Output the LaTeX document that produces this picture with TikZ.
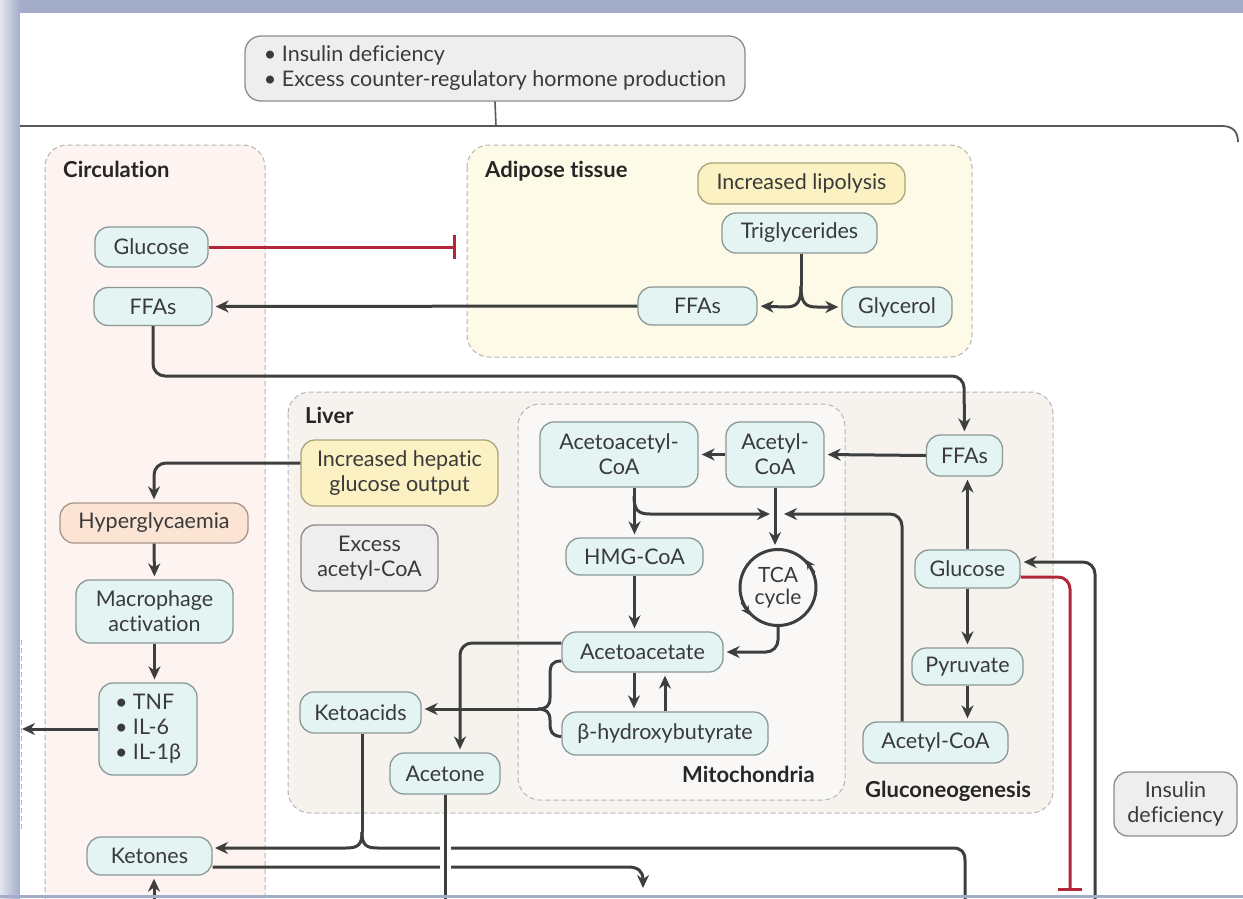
\documentclass[tikz,border=0pt]{standalone}
\usepackage{fontspec}
\setmainfont{Lato}[Ligatures=NoCommon]
\usetikzlibrary{arrows.meta}
\definecolor{nfill}{HTML}{E3F4F3}
\definecolor{nborder}{HTML}{8A9896}
\definecolor{yfill}{HTML}{FBF1C3}
\definecolor{yborder}{HTML}{A9A47A}
\definecolor{gfill}{HTML}{EEEEEE}
\definecolor{gborder}{HTML}{8C8C8C}
\definecolor{pfill}{HTML}{FBE4D4}
\definecolor{pborder}{HTML}{A8968A}
\definecolor{linec}{HTML}{3D3F3F}
\definecolor{txtc}{HTML}{3A3A3A}
\definecolor{redc}{HTML}{B3263A}
\definecolor{circfill}{HTML}{FDF3F0}
\definecolor{adifill}{HTML}{FDFBE7}
\definecolor{livfill}{HTML}{F6F3EE}
\definecolor{mitfill}{HTML}{FAF8F6}
\definecolor{dashc}{HTML}{B4B4B4}
\definecolor{framec}{HTML}{A3ADC9}
\begin{document}
\begin{tikzpicture}[x=1pt,y=-1pt,font=\fontsize{21.5}{25}\selectfont,
 box/.style={draw=nborder, fill=nfill, line width=1.3pt, rounded corners=14pt, align=center, inner sep=0pt, text=txtc},
 ybox/.style={box, draw=yborder, fill=yfill},
 gbox/.style={box, draw=gborder, fill=gfill},
 pbox/.style={box, draw=pborder, fill=pfill},
 panel/.style={draw=dashc, dash pattern=on 5pt off 3pt, line width=1pt, rounded corners=22pt},
 plabel/.style={font=\fontsize{22}{26}\selectfont\bfseries, anchor=base west, inner sep=0pt, text=black!85},
 arr/.style={draw=linec, line width=3pt, -{Stealth[length=13pt,width=12pt]}, rounded corners=12pt, shorten >=3pt},
 ln/.style={draw=linec, line width=3pt, rounded corners=12pt},
 inh/.style={draw=redc, line width=3pt, -{Bar[width=24pt,line width=3pt]}, rounded corners=12pt},
]
\useasboundingbox (0,0) rectangle (1243,898);
% frame
\fill[framec] (0,0) rectangle (1243,898);
\shade[left color=framec!30, right color=framec] (0,0) rectangle (20,898);
\fill[white] (20,13) rectangle (1243,898);

% top box and frame line
\node[gbox, minimum width=500, minimum height=65, align=left, rounded corners=16pt] (top) at (495,68.5)
  {\textbullet\ Insulin deficiency\\ \textbullet\ Excess counter-regulatory hormone production};
\coordinate (framejoin) at (496,126);
\draw[gray!70!black, line width=1.6pt] (top.south) -- (framejoin);
\draw[gray!70!black, line width=1.8pt] (20,126) -- (1222,126) .. controls (1233,126) and (1238,132) .. (1238,142);

% panels
\draw[panel, fill=circfill] (45,145) rectangle (265,940);
\draw[panel, fill=adifill] (467,145) rectangle (972,357);
\draw[panel, fill=livfill] (288,392) rectangle (1053,813);
\draw[panel, fill=mitfill] (518,404) rectangle (845,800);
\draw[dashc, dash pattern=on 5pt off 3pt, line width=1pt] (21,640) -- (21,830);

\node[plabel] (lcirc) at (63,177) {Circulation};
\node[plabel] (ladi) at (485,177) {Adipose tissue};
\node[plabel] (lliv) at (305,423) {Liver};
\node[plabel] (lmit) at (682,782) {Mitochondria};
\node[plabel] (lglu) at (865,797) {Gluconeogenesis};

% circulation nodes
\node[box, minimum width=113, minimum height=40] (cGlu) at (151.5,247) {Glucose};
\node[box, minimum width=118, minimum height=38] (cFFA) at (153,306.5) {FFAs};
\node[pbox, minimum width=188, minimum height=40] (hyper) at (154,523) {Hyperglycaemia};
\node[box, minimum width=157, minimum height=63] (macro) at (154.5,611.5) {Macrophage\\activation};
\node[box, minimum width=98, minimum height=92, align=left] (tnf) at (148,729) {\textbullet\ TNF\\\textbullet\ IL-6\\\textbullet\ IL-1β};
\node[box, minimum width=125, minimum height=38] (ket) at (149.5,856) {Ketones};

% adipose nodes
\node[ybox, minimum width=207, minimum height=41] (lipo) at (801.5,183.5) {Increased lipolysis};
\node[box, minimum width=155, minimum height=40] (trig) at (799.5,233) {Triglycerides};
\node[box, minimum width=119, minimum height=38] (aFFA) at (697.5,306) {FFAs};
\node[box, minimum width=110, minimum height=40] (glyc) at (897,307) {Glycerol};

% liver nodes
\node[ybox, minimum width=197, minimum height=66] (ihgo) at (399.5,473) {Increased hepatic\\glucose output};
\node[gbox, minimum width=137, minimum height=66] (exac) at (369.5,558) {Excess\\acetyl-CoA};
\node[box, minimum width=121, minimum height=41] (keto) at (360.5,712.5) {Ketoacids};
\node[box, minimum width=110, minimum height=41] (acet) at (445,773.5) {Acetone};
\node[box, minimum width=76, minimum height=41] (lFFA) at (964.5,455.5) {FFAs};
\node[box, minimum width=105, minimum height=38] (lGlu) at (967.5,569) {Glucose};
\node[box, minimum width=111, minimum height=37] (pyr) at (967.5,666.5) {Pyruvate};
\node[box, minimum width=145, minimum height=41] (gACoA) at (935.5,742.5) {Acetyl-CoA};

% mitochondria nodes
\node[box, minimum width=158, minimum height=65] (acacCoA) at (619,454.5) {Acetoacetyl-\\CoA};
\node[box, minimum width=98, minimum height=65] (mACoA) at (775,454.5) {Acetyl-\\CoA};
\node[box, minimum width=137, minimum height=37] (hmg) at (634.5,556.5) {HMG-CoA};
\node[circle, draw=linec, line width=3pt, minimum size=76, inner sep=0pt, align=center, text=txtc,
  font=\fontsize{21}{22}\selectfont] (tca) at (778,587.5) {TCA\\cycle};
\node[box, minimum width=161, minimum height=40] (acac) at (642.5,652) {Acetoacetate};
\node[box, minimum width=206, minimum height=43] (bohb) at (665,733.5) {β-hydroxybutyrate};

\node[gbox, minimum width=123, minimum height=64] (insd) at (1175.5,804) {Insulin\\deficiency};

% TCA arrowheads
\draw[linec, line width=2pt, -{Stealth[length=9pt,width=9pt]}] (tca.22) -- (tca.44);
\draw[linec, line width=2pt, -{Stealth[length=9pt,width=9pt]}] (tca.202) -- (tca.224);

% edges: circulation / adipose
\coordinate (inhEnd) at (456,247);
\draw[inh] (cGlu.east) -- (inhEnd);
\draw[arr] (aFFA.west) -- (cFFA.east);
\coordinate (fork) at (801,286);
\draw[ln] (trig.south -| fork) -- (fork);
\draw[arr, sharp corners] (fork) .. controls (801,303) and (797,307) .. (785,307) -- (aFFA.east);
\draw[arr, sharp corners] (fork) .. controls (801,303) and (805,307) .. (817,307) -- (glyc.west);
\coordinate (ffaturn) at (964,376);
\draw[arr] (cFFA.south) |- (ffaturn) -- (lFFA.north);
\draw[arr] ([yshift=10pt]ihgo.west) -| (hyper.north);
\draw[arr] (hyper.south) -- (macro.north);
\draw[arr] (macro.south) -- (macro.south |- tnf.north);
\coordinate (leftEnd) at (19,729);
\draw[arr] (tnf.west) -- (leftEnd);
\coordinate (ketBot) at (154,899);
\draw[arr] (ketBot) -- (ketBot |- ket.south);

% liver / mitochondria edges
\draw[arr] (lFFA.west) -- (mACoA.east);
\draw[arr] (mACoA.west) -- (acacCoA.east);
\draw[arr] (hmg.north |- acacCoA.south) -- (hmg.north);
\coordinate (brA) at (634,496);
\coordinate (tcaJoinL) at (773,514);
\coordinate (tcaJoinR) at (781,514);
\draw[arr, sharp corners] (brA) .. controls (634,510) and (638,514) .. (650,514) -- (tcaJoinL);
\draw[arr] (mACoA.south) -- (mACoA.south |- tca.north);
\draw[arr] ([xshift=-33.5pt]gACoA.north) |- (tcaJoinR);
\draw[arr] (hmg.south) -- (hmg.south |- acac.north);
\draw[arr] (tca.south) |- (acac.east);
\draw[arr] ([xshift=-8.5pt]acac.south) -- ([xshift=-8.5pt]acac.south |- bohb.north);
\draw[arr] (bohb.north) -- (bohb.north |- acac.south);
\coordinate (brJ) at (538,709);
\draw[ln, sharp corners] ([yshift=-9pt]acac.west) .. controls (552,661) and (550,665) .. (550,675) -- (550,698) .. controls (550,706) and (546,709) .. (brJ);
\draw[ln, sharp corners] ([yshift=-3pt]bohb.west) .. controls (552,736) and (550,732) .. (550,723) -- (550,720) .. controls (550,712) and (546,709) .. (brJ);
\draw[arr] (brJ) -- (brJ -| keto.east);
\draw[arr] ([yshift=9pt]acac.west) -| ([xshift=15pt]acet.north);
\draw[arr] (lGlu.north) -- (lGlu.north |- lFFA.south);
\draw[arr] (lGlu.south) -- (lGlu.south |- pyr.north);
\draw[arr] (pyr.south) -- (pyr.south |- gACoA.north);
\coordinate (redEnd) at (1070,891);
\draw[inh] ([yshift=-8pt]lGlu.east) -| (redEnd);
\coordinate (rBot) at (1095,899);
\draw[arr] (rBot) |- ([yshift=7pt]lGlu.east);

% bottom lines
\coordinate (kfork) at (362,832);
\coordinate (ketIn) at (212,848);
\coordinate (downR) at (965,899);
\draw[ln] (keto.south -| kfork) -- (kfork);
\draw[arr, sharp corners] (kfork) .. controls (362,845) and (358,848) .. (346,848) -- (ketIn);
\draw[ln, sharp corners] (kfork) .. controls (362,845) and (366,848) .. (378,848) -- (953,848) .. controls (961,848) and (965,852) .. (965,860) -- (downR);
\coordinate (ketOut) at (643,891);
\draw[arr, sharp corners] ([yshift=-11pt]ket.east) -- (628,867) .. controls (638,867) and (643,871) .. (643,880) -- (ketOut);
\coordinate (acetBot) at (445,899);
\draw[white, line width=11pt] (445,841) -- (445,874);
\draw[ln] (acet.south) -- (acetBot);

% bottom frame strip
\fill[framec] (0,895) rectangle (1243,898);
\end{tikzpicture}
\end{document}
